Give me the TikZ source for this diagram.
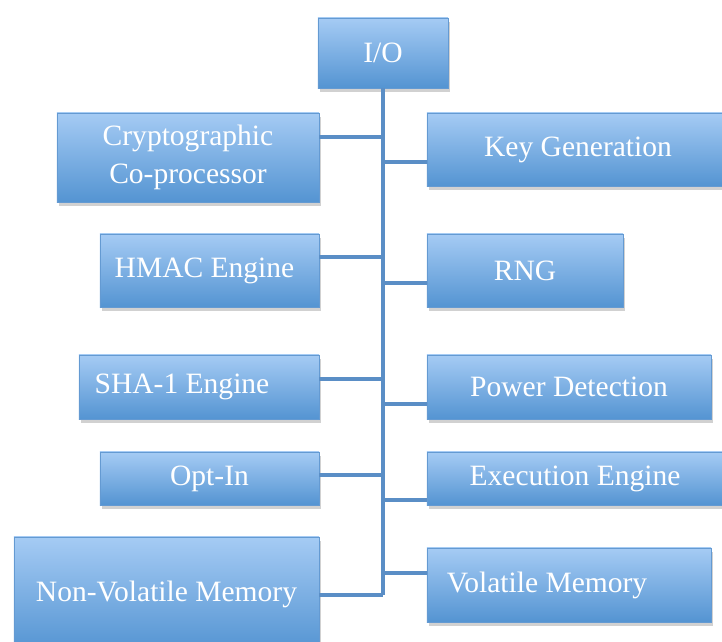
\documentclass[tikz,border=0pt]{standalone}
\usepackage{fontspec}
\setmainfont{Liberation Serif}
\usetikzlibrary{shadows}
\definecolor{boxtop}{RGB}{165,203,244}
\definecolor{boxbot}{RGB}{84,148,210}
\definecolor{boxline}{RGB}{100,154,210}
\definecolor{linkblue}{RGB}{90,142,198}
\tikzset{
  unit/.style={draw=boxline, line width=0.6pt, top color=boxtop, bottom color=boxbot,
    text=white, font=\fontsize{21}{27}\selectfont, align=center, inner sep=0pt,
    drop shadow={shadow xshift=0.5mm, shadow yshift=-0.9mm, opacity=0.3, fill=black!60}},
  link/.style={draw=linkblue, line width=2.6pt}
}

\begin{document}
\begin{tikzpicture}[x=0.025cm, y=-0.025cm]
				\useasboundingbox (0,0) rectangle (722,642);
				
				\node[unit, minimum width=3.25cm, minimum height=1.75cm] (io) at (383,53) {I/O};
				
				% left column
				\node[unit, minimum width=6.55cm, minimum height=2.225cm] (crypto) at (188,157.5) {Cryptographic\\Co-processor};
				\node[unit, minimum width=5.475cm, minimum height=1.825cm] (hmac) at (209.5,270.5) {HMAC Engine\hspace*{0.25cm}};
				\node[unit, minimum width=6cm, minimum height=1.6cm] (sha) at (199,387) {SHA-1 Engine\hspace*{0.85cm}};
				\node[unit, minimum width=5.475cm, minimum height=1.325cm] (optin) at (209.5,478.5) {Opt-In};
				\node[unit, minimum width=7.625cm, minimum height=2.85cm] (nvm) at (166.5,594) {Non-Volatile Memory};
				
				% right column
				\node[unit, minimum width=7.55cm, minimum height=1.825cm] (keygen) at (578,149.5) {Key Generation};
				\node[unit, minimum width=4.9cm, minimum height=1.825cm] (rng) at (525,270.5) {RNG};
				\node[unit, minimum width=7.1cm, minimum height=1.6cm] (power) at (569,387) {Power Detection};
				\node[unit, minimum width=7.4cm, minimum height=1.325cm] (exec) at (575,478.5) {Execution Engine};
				\node[unit, minimum width=7.1cm, minimum height=1.85cm] (vm) at (569,585) {Volatile Memory\hspace*{1.1cm}};
				
				% bus
				\coordinate (base) at (io.south |- 0,595);
				\draw[link] (io.south) -- (base);
				\foreach \n/\y in {crypto/137, hmac/257, sha/379, optin/475, nvm/595}
					\draw[link] (\n.east |- 0,\y) -- (io.south |- 0,\y);
				\foreach \n/\y in {keygen/162, rng/283, power/404, exec/500, vm/573}
					\draw[link] (io.south |- 0,\y) -- (\n.west |- 0,\y);
			\end{tikzpicture}
\end{document}
